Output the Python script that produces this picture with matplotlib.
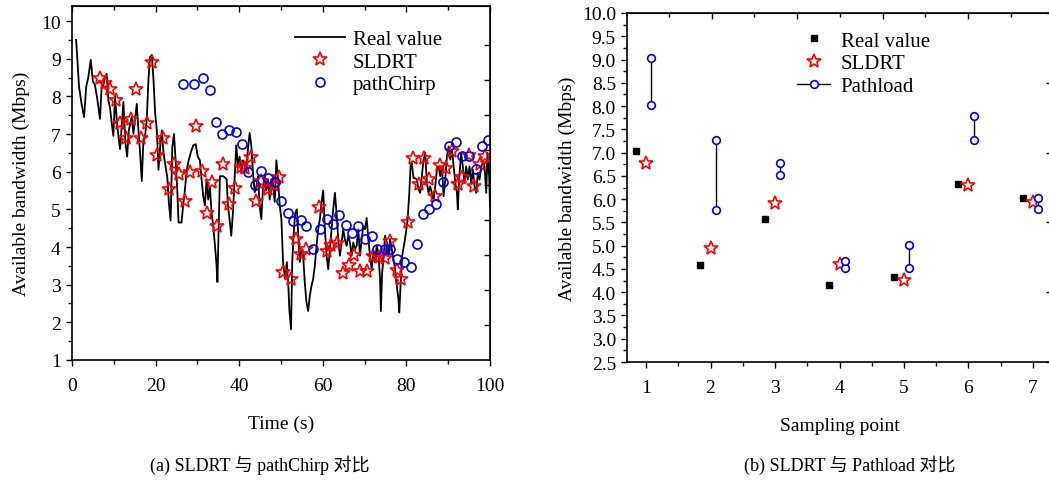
import matplotlib
matplotlib.use('Agg')
import matplotlib.pyplot as plt
import numpy as np
from matplotlib.lines import Line2D
from matplotlib.ticker import MultipleLocator

plt.rcParams['font.family'] = ['Liberation Serif', 'Noto Sans CJK SC']
plt.rcParams['font.size'] = 14

# ---------------- (a) data: time series ----------------
real_t = [1.0, 1.7, 2.3, 2.9, 3.4, 3.9, 4.5, 5.0, 5.5, 6.1, 6.7, 7.1, 7.5, 7.9, 8.3, 8.7, 9.1, 9.5, 9.9,
          10.3, 10.7, 11.1, 11.5, 11.9, 12.3, 12.8, 13.2, 13.6, 14.3, 14.7, 15.1, 15.5, 15.9, 16.3, 16.7,
          17.1, 17.5, 17.9, 18.3, 18.7, 19.1, 19.5, 19.9, 20.3, 20.7, 21.1, 21.5, 21.9, 22.3, 22.8, 23.2,
          23.6, 24.0, 24.4, 24.8, 25.2, 25.5, 26.2, 26.6, 27.0, 27.4, 27.8, 28.4, 29.0, 29.6, 30.1, 30.6,
          31.0, 31.4, 31.8, 32.2, 32.6, 33.0, 33.4, 33.8, 34.2, 34.6, 34.8, 35.1, 35.4, 36.2, 37.0, 37.3,
          37.7, 38.1, 38.5, 38.9, 39.3, 39.7, 40.1, 40.5, 40.9, 41.3, 41.7, 42.1, 42.5, 42.9, 43.3, 43.7,
          44.1, 44.5, 44.9, 45.3, 45.7, 46.1, 46.5, 46.9, 47.3, 47.7, 48.1, 48.5, 48.9, 49.3, 49.7, 50.1,
          50.5, 51.0, 51.4, 51.8, 52.0, 52.4, 52.7, 53.0, 53.4, 53.8, 54.2, 54.5, 54.9, 55.3, 55.7, 56.1,
          56.5, 56.9, 57.3, 57.7, 58.1, 58.5, 58.9, 59.3, 59.7, 60.1, 60.5, 60.9, 61.3, 61.7, 62.1, 62.5,
          62.9, 63.3, 63.7, 64.1, 64.5, 64.9, 65.3, 65.7, 66.1, 66.5, 66.9, 67.3, 67.7, 68.1, 68.5, 68.9,
          69.3, 69.7, 70.1, 70.5, 70.9, 71.3, 71.7, 72.1, 72.5, 72.9, 73.3, 73.7, 73.9, 74.2, 74.6, 74.9,
          75.3, 75.7, 76.1, 76.5, 76.9, 77.3, 77.7, 78.1, 78.3, 78.6, 79.0, 79.4, 79.9, 80.3, 80.7, 81.0,
          81.3, 81.7, 82.1, 82.5, 82.9, 83.3, 83.7, 84.1, 84.5, 84.9, 85.3, 85.7, 86.1, 86.5, 86.9, 87.3,
          87.7, 88.1, 88.5, 88.9, 89.3, 89.7, 90.1, 90.5, 90.9, 91.3, 91.7, 92.1, 92.3, 92.6, 93.1, 93.5,
          93.9, 94.3, 94.7, 95.1, 95.5, 95.9, 96.3, 96.7, 97.1, 97.5, 97.9, 98.3, 98.7, 99.1, 99.4, 99.8,
          100.0]
real_v = [9.5, 8.25, 7.8, 7.45, 8.25, 8.5, 8.97, 8.4, 8.3, 7.9, 7.4, 8.25, 8.3, 8.5, 8.6, 7.9, 7.7, 7.3, 6.95,
          8.0, 7.4, 6.95, 6.6, 7.2, 7.85, 6.75, 6.4, 7.1, 7.45, 7.0, 7.4, 7.8, 7.1, 6.5, 5.75,
          6.85, 6.95, 7.4, 8.45, 9.05, 9.1, 8.45, 7.55, 7.1, 6.05, 6.65, 7.1, 6.5, 6.2, 5.85, 5.15,
          4.7, 6.65, 7.0, 6.3, 5.5, 4.65, 4.65, 5.1, 5.5, 5.97, 6.25, 6.5, 6.7, 6.73, 6.4, 6.3,
          5.8, 5.35, 5.1, 5.8, 5.26, 5.6, 4.9, 4.55, 4.05, 3.5, 3.07, 4.55, 5.88, 5.88, 5.8, 5.1,
          4.74, 4.3, 4.9, 5.8, 6.7, 6.15, 6.4, 5.97, 6.3, 6.25, 5.97, 6.6, 7.03, 6.7, 5.97, 5.45,
          5.6, 5.88, 5.1, 4.74, 5.6, 5.88, 5.5, 5.8, 5.26, 5.8, 5.7, 5.2, 6.3, 5.8, 5.1, 4.74,
          3.6, 3.15, 3.6, 2.88, 2.35, 1.82, 3.6, 4.3, 4.9, 5.0, 4.2, 3.6, 3.94, 3.77, 3.06, 2.53,
          2.3, 2.7, 2.97, 3.15, 3.5, 4.03, 4.47, 4.74, 5.18, 5.5, 4.47, 3.77, 3.41, 3.94, 4.47, 5.0,
          5.44, 4.9, 4.2, 3.77, 4.12, 4.47, 4.2, 4.03, 4.3, 4.12, 3.77, 4.12, 3.94, 4.03, 4.47, 3.77,
          4.2, 4.56, 4.47, 4.77, 4.2, 3.77, 3.41, 3.85, 3.6, 4.03, 3.85, 3.15, 2.3, 3.32, 3.77, 4.3,
          4.12, 3.77, 4.21, 3.94, 3.68, 3.41, 2.97, 2.62, 2.26, 2.97, 3.77, 4.03, 4.38, 4.74, 5.44, 6.15,
          6.23, 5.83, 5.83, 5.79, 5.53, 5.44, 5.88, 6.32, 6.5, 5.7, 5.44, 5.61, 5.44, 5.26, 5.61, 6.05,
          6.14, 5.88, 6.14, 5.35, 5.79, 6.41, 6.67, 6.32, 6.59, 6.14, 5.7, 5.44, 5.0, 5.79, 6.5, 6.14,
          5.7, 6.14, 5.79, 6.14, 5.7, 6.05, 5.61, 5.44, 5.97, 5.79, 6.14, 6.23, 6.14, 5.44, 6.5, 5.88,
          5.1]

sldrt_t = [6.7, 7.9, 9.1, 10.5, 11.5, 12.9, 14.1, 15.3, 16.5, 18.0, 19.2, 20.4, 21.8, 23.1, 24.4, 25.5,
           27.0, 28.2, 29.6, 31.0, 32.3, 33.5, 34.8, 36.2, 37.5, 38.9, 40.4, 41.5, 42.8, 44.0, 45.3,
           46.8, 48.4, 49.5, 50.6, 52.4, 53.5, 54.9, 56.0, 59.1, 60.9, 61.9, 63.5, 64.8, 66.3, 67.5,
           68.9, 70.5, 71.9, 73.5, 74.9, 76.2, 77.7, 78.7, 80.3, 81.7, 82.9, 84.3, 85.4, 86.9, 88.1,
           89.5, 91.0, 92.3, 93.4, 94.9, 96.1, 97.6, 98.9]
sldrt_v = [8.5, 8.35, 8.2, 7.9, 7.3, 6.9, 7.4, 8.2, 6.9, 7.3, 8.9, 6.45, 6.9, 5.55, 6.2, 5.95,
           5.22, 6.0, 7.2, 6.02, 4.9, 5.72, 4.56, 6.2, 5.13, 5.57, 6.13, 6.1, 6.38, 5.22, 5.75,
           5.53, 5.64, 5.87, 3.34, 3.16, 4.22, 3.81, 3.96, 5.05, 3.9, 4.05, 4.1, 3.3, 3.52, 3.78,
           3.35, 3.37, 3.76, 3.74, 3.72, 4.17, 3.4, 3.16, 4.67, 6.36, 5.68, 6.36, 5.8, 5.35, 6.17,
           6.1, 6.55, 5.68, 5.85, 6.45, 5.63, 6.2, 6.41]

chirp_t = [26.6, 29.3, 31.4, 33.0, 34.4, 36.0, 37.6, 39.2, 40.6, 42.0, 43.8, 45.2, 47.0, 48.6, 49.9,
           51.6, 52.9, 54.7, 56.1, 57.7, 59.3, 60.9, 62.4, 63.9, 65.6, 66.9, 68.5, 70.1, 71.7, 73.0,
           74.9, 76.2, 77.8, 79.4, 81.1, 82.5, 83.9, 85.5, 87.1, 88.7, 90.3, 91.8, 93.4, 95.0, 96.6,
           98.0, 99.6]
chirp_v = [8.33, 8.33, 8.48, 8.18, 7.33, 7.0, 7.1, 7.05, 6.74, 5.99, 5.64, 6.01, 5.84, 5.72, 5.23,
           4.91, 4.69, 4.72, 4.56, 3.94, 4.47, 4.74, 4.62, 4.84, 4.58, 4.38, 4.56, 4.2, 4.29, 3.94,
           3.94, 3.94, 3.68, 3.59, 3.46, 4.07, 4.87, 5.02, 5.13, 5.72, 6.68, 6.78, 6.41, 6.41, 6.06,
           6.68, 6.85]

# ---------------- (b) data: sampling points ----------------
points = [1, 2, 3, 4, 5, 6, 7]
real_pts = [7.03, 4.59, 5.57, 4.16, 4.32, 6.32, 6.02]
sldrt_pts = [6.77, 4.96, 5.91, 4.6, 4.26, 6.3, 5.93]
pathload_lo = [8.02, 5.77, 6.52, 4.53, 4.53, 7.28, 5.78]
pathload_hi = [9.03, 7.27, 6.77, 4.66, 5.02, 7.78, 6.02]

fig = plt.figure(figsize=(10.49, 4.81), dpi=100)

tick_kw = dict(labelsize=14, width=1.0)

# ================= panel (a) =================
ax1 = fig.add_axes([0.0686, 0.2495, 0.3985, 0.7360])
ax1.plot(real_t, real_v, color='black', lw=1.3, label='Real value')
ax1.plot(sldrt_t, sldrt_v, ls='none', marker='*', ms=10, mfc='none', mec='red', mew=1.2, label='SLDRT')
ax1.plot(chirp_t, chirp_v, ls='none', marker='o', ms=6.5, mfc='none', mec='blue', mew=1.2, label='pathChirp')
ax1.set_xlim(0, 100)
ax1.set_ylim(1, 10.4)
ax1.xaxis.set_major_locator(MultipleLocator(20))
ax1.xaxis.set_minor_locator(MultipleLocator(10))
ax1.yaxis.set_minor_locator(MultipleLocator(0.5))
ax1.set_yticks(np.arange(1, 11, 1))
ax1.tick_params(which='both', direction='out', **tick_kw)
ax1.tick_params(which='major', length=4.5)
ax1.tick_params(which='minor', length=3)
ax1.tick_params(axis='x', which='major', pad=8)
ax1.set_xlabel('Time (s)', fontsize=14, labelpad=15)
ax1.set_ylabel('Available bandwidth (Mbps)', fontsize=14, labelpad=8)
for sp in ax1.spines.values():
    sp.set_linewidth(1.2)

top1 = ax1.secondary_xaxis('top')
top1.xaxis.set_major_locator(MultipleLocator(20))
top1.xaxis.set_minor_locator(MultipleLocator(10))
top1.tick_params(which='both', direction='in', labeltop=False, width=1.0)
top1.tick_params(which='major', length=4.5)
top1.tick_params(which='minor', length=3)
right1 = ax1.secondary_yaxis('right')
right1.set_yticks(np.arange(1.93, 10.3, 0.93))
right1.tick_params(direction='in', labelright=False, length=4, width=1.0)

ax1.legend(loc='upper right', bbox_to_anchor=(0.92, 0.975), frameon=False, fontsize=15,
           handlelength=2.4, handletextpad=0.4, labelspacing=0.15, borderpad=0.2)

fig.text(0.2475, 0.032, '(a) SLDRT 与 pathChirp 对比', ha='center', va='center', fontsize=13)

# ================= panel (b) =================
ax2 = fig.add_axes([0.5977, 0.2453, 0.4061, 0.7256])
xs = np.array(points, dtype=float)
ax2.plot(xs - 0.16, real_pts, ls='none', marker='s', ms=4.5, color='black')
ax2.plot(xs, sldrt_pts, ls='none', marker='*', ms=10, mfc='none', mec='red', mew=1.2)
for x, lo, hi in zip(xs + 0.08, pathload_lo, pathload_hi):
    ax2.plot([x, x], [lo, hi], color='black', lw=1.0, zorder=1)
    ax2.plot([x, x], [lo, hi], ls='none', marker='o', ms=5.5, mfc='white', mec='blue', mew=1.2, zorder=3)
ax2.set_xlim(0.705, 7.31)
ax2.set_ylim(2.5, 10.0)
ax2.set_xticks(points)
ax2.xaxis.set_minor_locator(MultipleLocator(0.5))
ax2.set_yticks(np.arange(2.5, 10.01, 0.5))
ax2.yaxis.set_minor_locator(MultipleLocator(0.25))
ax2.yaxis.set_major_formatter(matplotlib.ticker.FormatStrFormatter('%.1f'))
ax2.tick_params(which='both', direction='out', **tick_kw)
ax2.tick_params(which='major', length=4.5)
ax2.tick_params(which='minor', length=3)
ax2.tick_params(axis='x', which='major', pad=8)
ax2.set_xlabel('Sampling point', fontsize=14, labelpad=15)
ax2.set_ylabel('Available bandwidth (Mbps)', fontsize=14, labelpad=4)
for sp in ax2.spines.values():
    sp.set_linewidth(1.2)

top2 = ax2.secondary_xaxis('top')
top2.set_xticks(np.arange(2.02, 7.3, 1.325))
top2.set_xticks(np.arange(1.357, 7.3, 1.325), minor=True)
top2.tick_params(which='both', direction='in', labeltop=False, width=1.0)
top2.tick_params(which='major', length=4.5)
top2.tick_params(which='minor', length=3)
right2 = ax2.secondary_yaxis('right')
right2.set_yticks(np.arange(2.5, 10.01, 1.5))
right2.tick_params(direction='in', labelright=False, length=5, width=1.0)

handles2 = [
    Line2D([], [], ls='none', marker='s', ms=4.5, color='black', label='Real value'),
    Line2D([], [], ls='none', marker='*', ms=10, mfc='none', mec='red', mew=1.2, label='SLDRT'),
    Line2D([], [], color='black', lw=1.0, marker='o', ms=5.5, mfc='white', mec='blue', mew=1.2, label='Pathload'),
]
ax2.legend(handles=handles2, loc='upper left', bbox_to_anchor=(0.365, 0.99), frameon=False, fontsize=15,
           handlelength=1.6, handletextpad=0.5, labelspacing=0.15, borderpad=0.2)

fig.text(0.810, 0.032, '(b) SLDRT 与 Pathload 对比', ha='center', va='center', fontsize=13)

fig.savefig('out.png', dpi=100)
